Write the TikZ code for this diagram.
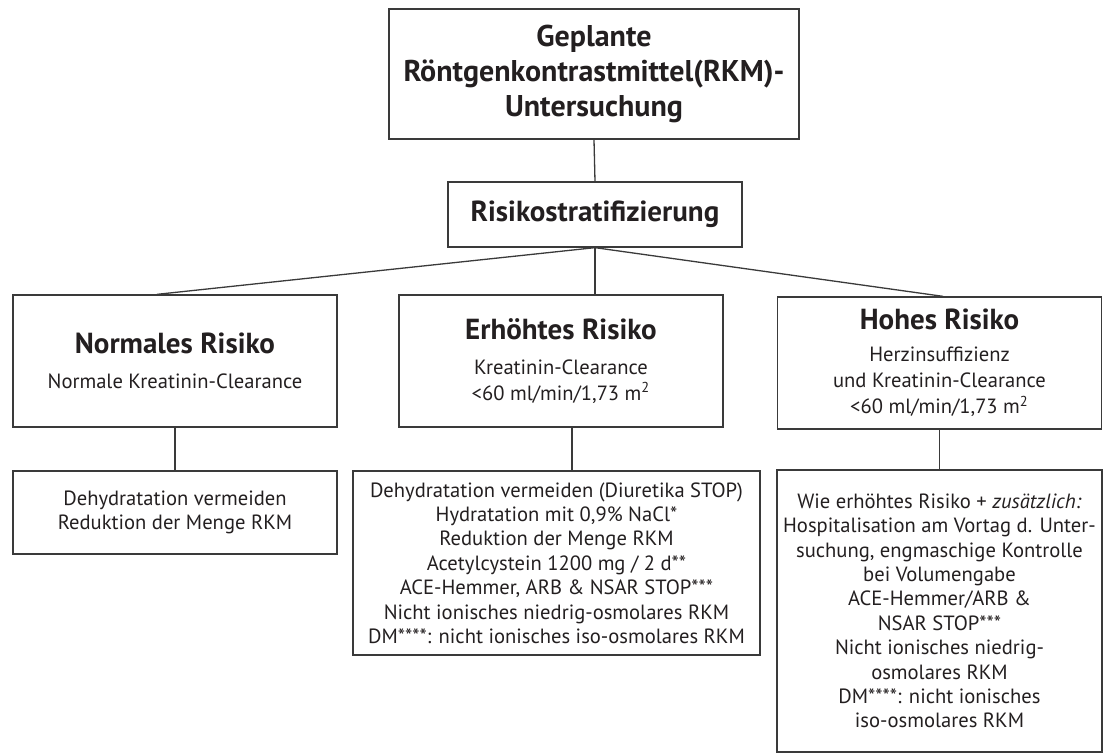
\documentclass[tikz,border=0pt]{standalone}
\usepackage{fontspec}
\setmainfont{PT Sans}
\usetikzlibrary{positioning,calc}
\definecolor{ink}{HTML}{231F20}
\definecolor{frame}{HTML}{3A3A3A}
\tikzset{
  stepbox/.style={
    rectangle, draw=frame, line width=0.65pt, text=ink,
    align=center, inner sep=1pt,
    font=\fontsize{10.3}{12.2}\selectfont
  },
  headbox/.style={stepbox, font=\fontsize{15}{17.3}\selectfont\bfseries},
  riskbox/.style={stepbox, minimum width=162pt, minimum height=66pt},
  link/.style={draw=frame, line width=0.65pt},
}
\newcommand{\risktitle}[1]{{\fontsize{14.5}{15}\selectfont\bfseries #1}}

\begin{document}
\begin{tikzpicture}[x=0.5pt, y=-0.5pt]
\useasboundingbox (0,0) rectangle (1105,754);
% top of the tree
\node[headbox, minimum width=205pt, minimum height=65pt] (plan) at (594,74)
  {Geplante\\Röntgenkontrastmittel(RKM)-\\Untersuchung};
\node[headbox, font=\fontsize{14.5}{15}\selectfont\bfseries,
  minimum width=147pt, minimum height=32.5pt] (strat) at (595,214.5)
  {Risikostratifizierung};
% risk groups
\node[riskbox] (normal) at (175,361)
  {\risktitle{Normales Risiko}\\[5.3pt]Normale Kreatinin-Clearance};
\node[riskbox] (erhoeht) at (561,361)
  {\risktitle{Erhöhtes Risiko}\\[5.3pt]Kreatinin-Clearance\\[0.4pt]
   <60 ml/min/1,73 m\textsuperscript{2}};
\node[riskbox] (hoch) at (939.5,363)
  {\risktitle{Hohes Risiko}\\[3.8pt]Herzinsuffizienz\\[0.8pt]
   und Kreatinin-Clearance\\[0.8pt]<60 ml/min/1,73 m\textsuperscript{2}};
% measures
\node[stepbox, minimum width=162pt, minimum height=41.5pt] (m-normal) at (175,512.5)
  {Dehydratation vermeiden\\Reduktion der Menge RKM};
\node[stepbox, minimum width=203.5pt, minimum height=92pt] (m-erhoeht) at (556.5,563)
  {Dehydratation vermeiden (Diuretika STOP)\\
   Hydratation mit 0,9\% NaCl*\\
   Reduktion der Menge RKM\\
   Acetylcystein 1200 mg / 2 d**\\
   ACE-Hemmer, ARB \& NSAR STOP***\\
   Nicht ionisches niedrig-osmolares RKM\\
   DM****: nicht ionisches iso-osmolares RKM};
\node[stepbox, minimum width=162.5pt, minimum height=141pt] (m-hoch) at (939.5,611)
  {Wie erhöhtes Risiko + \textit{zusätzlich:}\\
   Hospitalisation am Vortag d. Unter-\\
   suchung, engmaschige Kontrolle\\
   bei Volumengabe\\
   ACE-Hemmer/ARB \&\\
   NSAR STOP***\\
   Nicht ionisches niedrig-\\
   osmolares RKM\\
   DM****: nicht ionisches\\
   iso-osmolares RKM};
% connectors
\draw[link] (plan.south) -- (strat.north);
\draw[link] (strat.south) -- ([xshift=-9pt]normal.north);
\draw[link] (strat.south) -- (strat.south |- erhoeht.north);
\draw[link] (strat.south) -- ([xshift=1.75pt]hoch.north);
\draw[link] (normal.south) -- (m-normal.north);
\draw[link] ([xshift=5.5pt]erhoeht.south) -- ([xshift=5.5pt]erhoeht.south |- m-erhoeht.north);
\draw[link] (hoch.south) -- (m-hoch.north);
\end{tikzpicture}
\end{document}
